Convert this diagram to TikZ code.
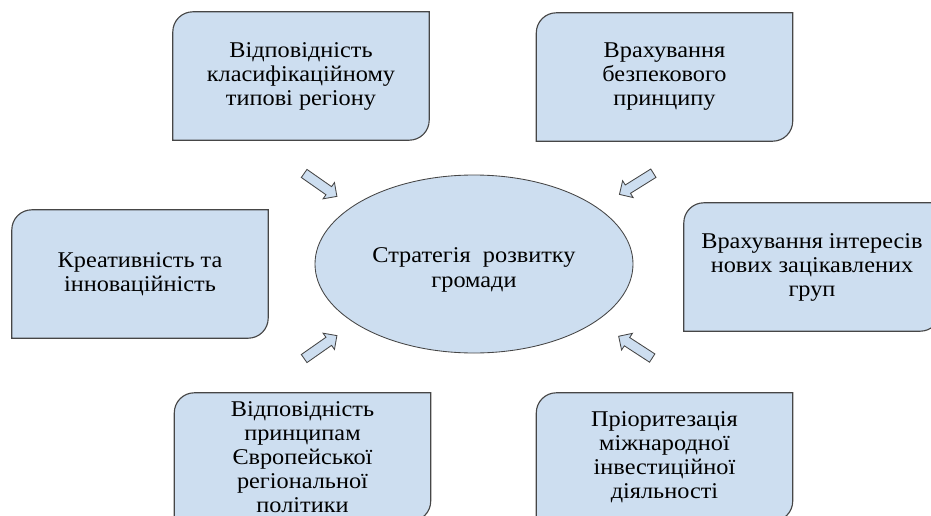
\documentclass[tikz,border=0pt]{standalone}
\usepackage{fontspec}
\setmainfont{Liberation Serif}[FakeStretch=1.08]
\usetikzlibrary{shapes.geometric,shapes.arrows,backgrounds}

\definecolor{boxblue}{RGB}{205,222,240}
\definecolor{rimgray}{RGB}{70,70,70}

\tikzset{
	txt/.style={align=center, inner sep=0pt, minimum width=256pt, minimum height=128pt,
		font=\fontsize{22.5}{24}\selectfont},
	boxshape/.style={fill=boxblue, draw=rimgray, line width=0.4mm},
	blockarrow/.style={single arrow, fill=boxblue, draw=rimgray, line width=0.3mm,
		minimum height=40pt, inner xsep=0pt, inner ysep=4.5pt, single arrow head extend=5pt}
}

\begin{document}
\begin{tikzpicture}[x=1pt,y=-1pt]
	\useasboundingbox (0,0) rectangle (931,516);
	
	%Mitte
	\node[ellipse, fill=boxblue, draw=rimgray, line width=0.3mm, minimum width=318pt, minimum height=178pt] (mid) at (474,264) {};
	\node[align=center, font=\fontsize{22.5}{25}\selectfont, inner sep=0pt] (midtxt) at ([yshift=-6pt]mid.center) {Стратегія~ розвитку\\громади};
	
	%Kaesten
	\node[txt] (b1) at (301,76) {Відповідність\\класифікаційному\\типові регіону};
	\node[txt] (b2) at (664.5,77) {Врахування\\безпекового\\принципу};
	\node[txt] (b3) at (140,274) {Креативність та\\інноваційність};
	\node[txt] (b4) at (812,267) {Врахування інтересів\\нових зацікавлених\\груп};
	\node[txt] (b5) at (302.5,457) {Відповідність\\принципам\\Європейської\\регіональної\\політики};
	\node[txt] (b6) at (664.5,457) {Пріоритезація\\міжнародної\\інвестиційної\\діяльності};
	
	%Umriss: oben links und unten rechts abgerundet
	\begin{scope}[on background layer]
		\foreach \b in {b1,b2,b3,b4,b5,b6}
			\path[boxshape] (\b.south west) -- ([yshift=-20pt]\b.north west)
				arc[start angle=180, end angle=90, radius=20pt] -- (\b.north east)
				-- ([yshift=20pt]\b.south east) arc[start angle=0, end angle=-90, radius=20pt] -- cycle;
	\end{scope}
	
	%Blockpfeile zur Mitte
	\node[blockarrow, rotate=-35] (p1) at (318.5,183.5) {};
	\node[blockarrow, rotate=-148] (p2) at (638.5,182.5) {};
	\node[blockarrow, rotate=35] (p3) at (318.5,348.5) {};
	\node[blockarrow, rotate=147] (p4) at (637.5,348.5) {};
	
\end{tikzpicture}
\end{document}
